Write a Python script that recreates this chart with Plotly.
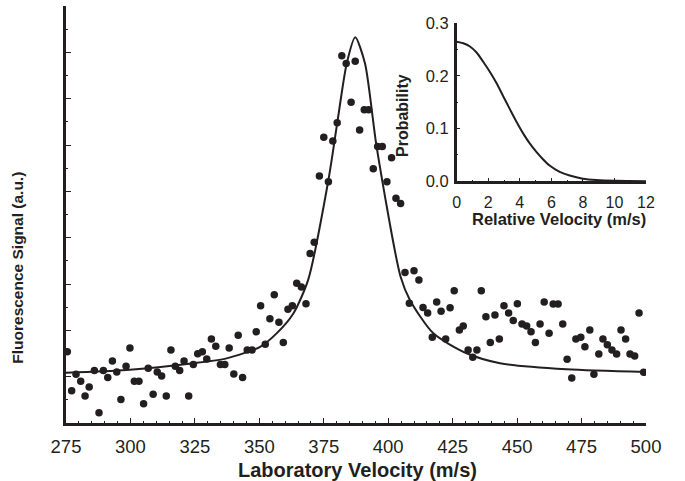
import plotly.graph_objects as go

# ---- main data: fluorescence signal vs laboratory velocity ----
lab_velocity = [
    275.5, 277.2, 278.9, 280.7, 282.4, 284.0, 286.0, 287.8, 289.5, 291.2,
    293.0, 294.7, 296.3, 298.3, 299.8, 301.5, 303.3, 305.1, 306.9, 308.8,
    310.4, 312.1, 313.9, 315.7, 317.4, 319.1, 320.8, 322.6, 324.4, 326.1,
    327.9, 329.6, 331.4, 333.1, 334.9, 336.6, 338.3, 340.1, 341.8, 343.5,
    345.3, 347.2, 348.8, 350.5, 352.3, 354.1, 355.8, 357.6, 359.3, 361.1,
    362.8, 364.5, 366.3, 368.1, 369.7, 371.3, 373.3, 375.0, 376.8, 378.5,
    380.2, 382.0, 383.7, 385.6, 387.2, 388.9, 390.7, 392.4, 394.2, 395.9,
    397.7, 399.5, 401.3, 403.0, 404.8, 406.5, 408.2, 410.0, 411.9, 413.5,
    415.3, 417.1, 418.8, 420.5, 422.3, 424.0, 425.6, 427.6, 429.1, 431.0,
    432.8, 434.4, 436.1, 437.9, 439.6, 441.4, 443.1, 444.9, 446.7, 448.5,
    450.1, 451.9, 453.7, 455.4, 457.1, 458.9, 460.5, 462.4, 464.0, 465.9,
    467.7, 469.4, 471.2, 472.8, 474.7, 476.3, 478.2, 479.8, 481.7, 483.3,
    485.0, 486.8, 488.6, 490.3, 492.1, 493.8, 495.6, 497.3, 499.1,
]
signal = [
    3.08, 1.39, 2.10, 1.80, 1.17, 1.55, 2.27, 0.44, 2.27, 1.96,
    2.68, 2.20, 1.01, 2.45, 3.24, 1.80, 1.80, 0.83, 2.36, 1.24,
    2.20, 2.03, 1.17, 3.15, 2.45, 2.27, 2.68, 1.17, 2.52, 2.99,
    3.08, 2.76, 3.63, 3.31, 2.52, 2.52, 3.24, 2.11, 3.79, 1.96,
    3.15, 3.15, 3.94, 5.06, 3.40, 4.50, 5.54, 4.35, 3.47, 4.91,
    5.06, 6.03, 5.87, 5.15, 7.32, 7.80, 10.66, 12.33, 10.41, 12.17,
    12.96, 15.85, 15.52, 13.85, 15.61, 12.65, 13.52, 13.52, 10.98, 11.93,
    11.93, 10.41, 11.45, 9.70, 9.47, 6.50, 5.17, 6.57, 6.17, 4.99,
    4.75, 3.70, 5.22, 4.82, 3.63, 4.98, 5.71, 4.01, 4.19, 3.15,
    2.84, 3.15, 5.71, 4.59, 3.47, 4.66, 3.63, 5.06, 4.75, 4.42,
    5.15, 4.27, 4.19, 3.94, 3.47, 4.27, 5.22, 3.87, 5.14, 5.14,
    4.27, 2.75, 1.94, 3.63, 3.70, 3.29, 4.01, 2.10, 2.98, 3.63,
    3.38, 3.15, 2.98, 4.01, 3.63, 2.98, 2.89, 4.75, 2.19,
]

# ---- fitted curve ----
fit_velocity = [
    275.0, 298.5, 324.4, 337.3, 350.3, 356.7, 363.2, 369.0, 376.8, 380.2,
    383.9, 387.2, 391.0, 395.5, 404.8, 408.4, 417.5, 430.4, 443.4, 469.2, 500.0,
]
fit_signal = [
    2.17, 2.29, 2.58, 2.79, 3.29, 3.87, 4.73, 6.20, 10.49, 12.93,
    15.52, 16.65, 15.52, 11.92, 6.31, 5.31, 3.87, 3.01, 2.58, 2.32, 2.20,
]

# ---- inset: relative velocity distribution ----
rel_velocity = [
    0.0, 0.42, 0.84, 1.26, 1.68, 2.10, 2.53, 2.94, 3.37, 3.79, 4.21,
    4.63, 5.05, 5.47, 5.89, 6.53, 7.16, 8.0, 8.85, 10.1, 12.0,
]
probability = [
    0.265, 0.262, 0.256, 0.2445, 0.227, 0.208, 0.186, 0.162, 0.137, 0.113, 0.091,
    0.072, 0.056, 0.042, 0.030, 0.018, 0.011, 0.005, 0.0025, 0.001, 0.0003,
]

main_xticks = [275, 300, 325, 350, 375, 400, 425, 450, 475, 500]
inset_xticks = [0, 2, 4, 6, 8, 10, 12]
inset_yticks = [0.0, 0.1, 0.2, 0.3]

FONT = "Liberation Sans, Arial, Helvetica, sans-serif"
INK = "#231f20"

fig = go.Figure()

fig.add_trace(go.Scatter(
    x=lab_velocity, y=signal, mode="markers",
    marker=dict(color=INK, size=7.5, line=dict(width=0)),
    xaxis="x", yaxis="y", showlegend=False,
))
fig.add_trace(go.Scatter(
    x=fit_velocity, y=fit_signal, mode="lines",
    line=dict(color=INK, width=2, shape="spline", smoothing=0.7),
    xaxis="x", yaxis="y", showlegend=False,
))
fig.add_trace(go.Scatter(
    x=rel_velocity, y=probability, mode="lines",
    line=dict(color=INK, width=2, shape="spline", smoothing=0.8),
    xaxis="x2", yaxis="y2", showlegend=False,
))

fig.update_layout(
    template="none",
    width=685, height=481,
    margin=dict(l=66, r=39, t=6, b=58, pad=0, autoexpand=False),
    paper_bgcolor="white", plot_bgcolor="white",
    font=dict(family=FONT, color=INK),
    xaxis=dict(
        domain=[0, 1], range=[275, 500], showgrid=False, zeroline=False, automargin=False,
        showline=True, linecolor=INK, linewidth=2.5,
        tickmode="array", tickvals=main_xticks,
        ticks="inside", ticklen=5, tickwidth=1, tickcolor=INK,
        tickfont=dict(size=18.5, color=INK), ticklabelstandoff=5,
        minor=dict(dtick=5, ticks="inside", ticklen=2.5, tickwidth=1, tickcolor=INK, showgrid=False),
    ),
    yaxis=dict(
        domain=[0, 1], range=[0, 18], showgrid=False, zeroline=False, automargin=False,
        showline=True, linecolor=INK, linewidth=2.5,
        dtick=2, tick0=0, showticklabels=False,
        ticks="inside", ticklen=5, tickwidth=1, tickcolor=INK,
        minor=dict(dtick=1, ticks="inside", ticklen=2.5, tickwidth=1, tickcolor=INK, showgrid=False),
    ),
    xaxis2=dict(
        domain=[0.6736, 1.0], range=[0, 12], anchor="y2", automargin=False,
        showgrid=False, zeroline=False,
        showline=True, linecolor=INK, linewidth=2.5,
        tickmode="array", tickvals=inset_xticks,
        ticks="inside", ticklen=4, tickwidth=1, tickcolor=INK,
        tickfont=dict(size=16, color=INK), ticklabelstandoff=5,
        minor=dict(dtick=1, ticks="inside", ticklen=2, tickwidth=1, tickcolor=INK, showgrid=False),
    ),
    yaxis2=dict(
        domain=[0.5796, 0.9585], range=[0, 0.3], anchor="x2", automargin=False,
        showgrid=False, zeroline=False,
        showline=True, linecolor=INK, linewidth=2.5,
        tickmode="array", tickvals=inset_yticks, tickformat=".1f",
        ticks="inside", ticklen=4, tickwidth=1, tickcolor=INK,
        tickfont=dict(size=16.5, color=INK), ticklabelstandoff=2,
        minor=dict(dtick=0.05, ticks="inside", ticklen=2, tickwidth=1, tickcolor=INK, showgrid=False),
    ),
    annotations=[
        dict(text="<b>Laboratory Velocity (m/s)</b>", xref="paper", yref="paper",
             x=0.5026, y=-0.113, xanchor="center", yanchor="middle",
             showarrow=False, font=dict(size=20, color=INK)),
        dict(text="<b>Fluorescence Signal (a.u.)</b>", xref="paper", yref="paper",
             x=-0.083, y=0.372, xanchor="center", yanchor="middle", textangle=-90,
             showarrow=False, font=dict(size=15.5, color=INK)),
        dict(text="<b>Relative Velocity (m/s)</b>", xref="paper", yref="paper",
             x=0.85, y=0.49, xanchor="center", yanchor="middle",
             showarrow=False, font=dict(size=16.5, color=INK)),
        dict(text="<b>Probability</b>", xref="paper", yref="paper",
             x=0.5793, y=0.7386, xanchor="center", yanchor="middle", textangle=-90,
             showarrow=False, font=dict(size=16, color=INK)),
    ],
)

fig.write_html("out.html")
